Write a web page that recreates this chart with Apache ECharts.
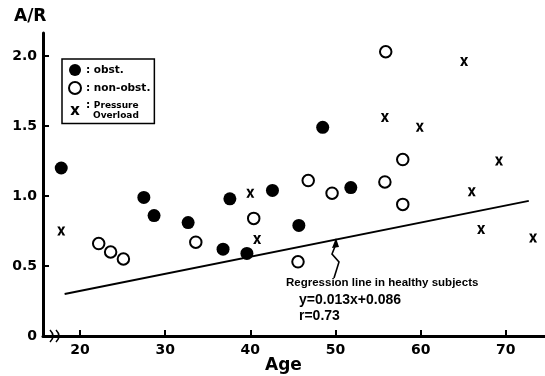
<!DOCTYPE html>
<html>
<head>
<meta charset="utf-8">
<script src="https://cdn.jsdelivr.net/npm/echarts@6/dist/echarts.min.js"></script>
<style>
  html, body { margin: 0; padding: 0; background: #fff; }
  #chart { width: 545px; height: 376px; }
</style>
</head>
<body>
<div id="chart"></div>
<script>
// values
const obstAge = [17.8, 27.5, 28.7, 32.7, 36.8, 37.6, 39.6, 42.6, 45.7, 48.5, 51.8];
const obstAR = [1.20, 0.99, 0.86, 0.81, 0.62, 0.98, 0.59, 1.04, 0.79, 1.49, 1.06];

const nonObstAge = [22.2, 23.6, 25.1, 33.6, 40.4, 45.6, 46.8, 49.6, 55.8, 55.9, 57.9, 57.9];
const nonObstAR = [0.66, 0.60, 0.55, 0.67, 0.84, 0.53, 1.11, 1.02, 1.10, 2.03, 1.26, 0.94];

const overloadAge = [17.8, 40.0, 40.8, 55.8, 59.9, 65.1, 66.0, 67.1, 69.2, 73.2];
const overloadAR = [0.75, 1.02, 0.69, 1.56, 1.49, 1.96, 1.03, 0.76, 1.25, 0.70];

// regression line in healthy subjects, as drawn
const regressionAge = [18.2, 72.7];
const regressionAR = [0.30, 0.965];

const xTicks = [20, 30, 40, 50, 60, 70];
const yTicks = [0, 0.5, 1.0, 1.5, 2.0];

const pairs = (xs, ys) => xs.map((x, i) => [x, ys[i]]);

const FONT = 'DejaVu Sans';
const xShape = 'M0,0L3.2,0L5,3.4L6.8,0L10,0L6.6,5L10,10L6.8,10L5,6.6L3.2,10L0,10L3.4,5Z';
const xMark = 'path://' + xShape;
// same cross, padded so it draws smaller inside the legend icon box
const xLegendIcon = 'path://M-1.5,-1.5L-1.4,-1.5M11.5,11.5L11.4,11.5' + xShape;

const chart = echarts.init(document.getElementById('chart'));
chart.setOption({
  animation: false,
  backgroundColor: '#fff',
  grid: { left: 43, right: 0, top: 33, bottom: 40 },
  xAxis: {
    type: 'value',
    min: 15.66,
    max: 74.6,
    splitLine: { show: false },
    axisLine: { lineStyle: { color: '#000', width: 3 } },
    axisTick: { inside: true, length: 6, lineStyle: { color: '#000', width: 2 }, customValues: xTicks },
    axisLabel: {
      customValues: xTicks, margin: 7,
      color: '#000', fontFamily: FONT, fontWeight: 'bold', fontSize: 14
    }
  },
  yAxis: {
    type: 'value',
    min: 0,
    max: 2.164,
    splitLine: { show: false },
    axisLine: { lineStyle: { color: '#000', width: 3 } },
    axisTick: { inside: true, length: 6, lineStyle: { color: '#000', width: 2 }, customValues: yTicks },
    axisLabel: {
      customValues: yTicks, margin: 6,
      color: '#000', fontFamily: FONT, fontWeight: 'bold', fontSize: 14,
      formatter: v => v === 0 ? '0' : v.toFixed(1)
    }
  },
  legend: {
    orient: 'vertical',
    left: 62, top: 59,
    padding: [5, 4, 3, 6],
    itemGap: 5,
    itemWidth: 12, itemHeight: 12,
    borderColor: '#000', borderWidth: 1.5, borderRadius: 0,
    textStyle: {
      color: '#000', fontFamily: FONT, fontWeight: 'bold', fontSize: 10.5,
      rich: {
        s: { fontFamily: FONT, fontWeight: 'bold', fontSize: 9, lineHeight: 10, color: '#000' },
        o: { fontFamily: FONT, fontWeight: 'bold', fontSize: 9, lineHeight: 10, color: '#000', padding: [0, 0, 0, 7] }
      }
    },
    formatter: name => name === 'Pressure Overload'
      ? ': {s|Pressure}\n{o|Overload}'
      : ': ' + name,
    data: [
      { name: 'obst.' },
      { name: 'non-obst.' },
      { name: 'Pressure Overload', icon: xLegendIcon }
    ]
  },
  series: [
    {
      name: 'obst.', type: 'scatter',
      data: pairs(obstAge, obstAR),
      symbol: 'circle', symbolSize: 13,
      itemStyle: { color: '#000', opacity: 1 }
    },
    {
      name: 'non-obst.', type: 'scatter',
      data: pairs(nonObstAge, nonObstAR),
      symbol: 'circle', symbolSize: 11.5,
      itemStyle: { color: '#fff', borderColor: '#000', borderWidth: 2, opacity: 1 }
    },
    {
      name: 'Pressure Overload', type: 'scatter',
      data: pairs(overloadAge, overloadAR),
      symbol: xMark, symbolSize: [8, 9],
      itemStyle: { color: '#000', opacity: 1 }
    },
    {
      name: 'regression', type: 'line',
      data: pairs(regressionAge, regressionAR),
      symbol: 'none',
      lineStyle: { color: '#000', width: 2 },
      silent: true
    }
  ],
  graphic: [
    { type: 'text', left: 14, top: 8, style: { text: 'A/R', fill: '#000', font: 'bold 17px "DejaVu Sans"' } },
    { type: 'text', left: 265, top: 357, style: { text: 'Age', fill: '#000', font: 'bold 17px "DejaVu Sans"' } },
    // axis break
    { type: 'rect', shape: { x: 48, y: 332, width: 14, height: 8 }, style: { fill: '#fff' } },
    { type: 'bezierCurve', shape: { x1: 50, y1: 330, cpx1: 56, cpy1: 336, x2: 50, y2: 342 }, style: { fill: 'none', stroke: '#000', lineWidth: 1.6 } },
    { type: 'bezierCurve', shape: { x1: 56, y1: 330, cpx1: 62, cpy1: 336, x2: 56, y2: 342 }, style: { fill: 'none', stroke: '#000', lineWidth: 1.6 } },
    // arrow to regression line
    { type: 'polyline', shape: { points: [[336, 244], [332, 254], [339, 262], [334, 278]] }, style: { fill: 'none', stroke: '#000', lineWidth: 1.6 } },
    { type: 'polygon', shape: { points: [[336, 238], [332, 248], [339, 247]] }, style: { fill: '#000' } },
    { type: 'text', left: 286, top: 277, style: { text: 'Regression line in healthy subjects', fill: '#000', font: 'bold 11.5px "Liberation Sans"' } },
    { type: 'text', left: 299, top: 293, style: { text: 'y=0.013x+0.086', fill: '#000', font: 'bold 14px "Liberation Sans"' } },
    { type: 'text', left: 299, top: 309, style: { text: 'r=0.73', fill: '#000', font: 'bold 14px "Liberation Sans"' } }
  ]
});
</script>
</body>
</html>
